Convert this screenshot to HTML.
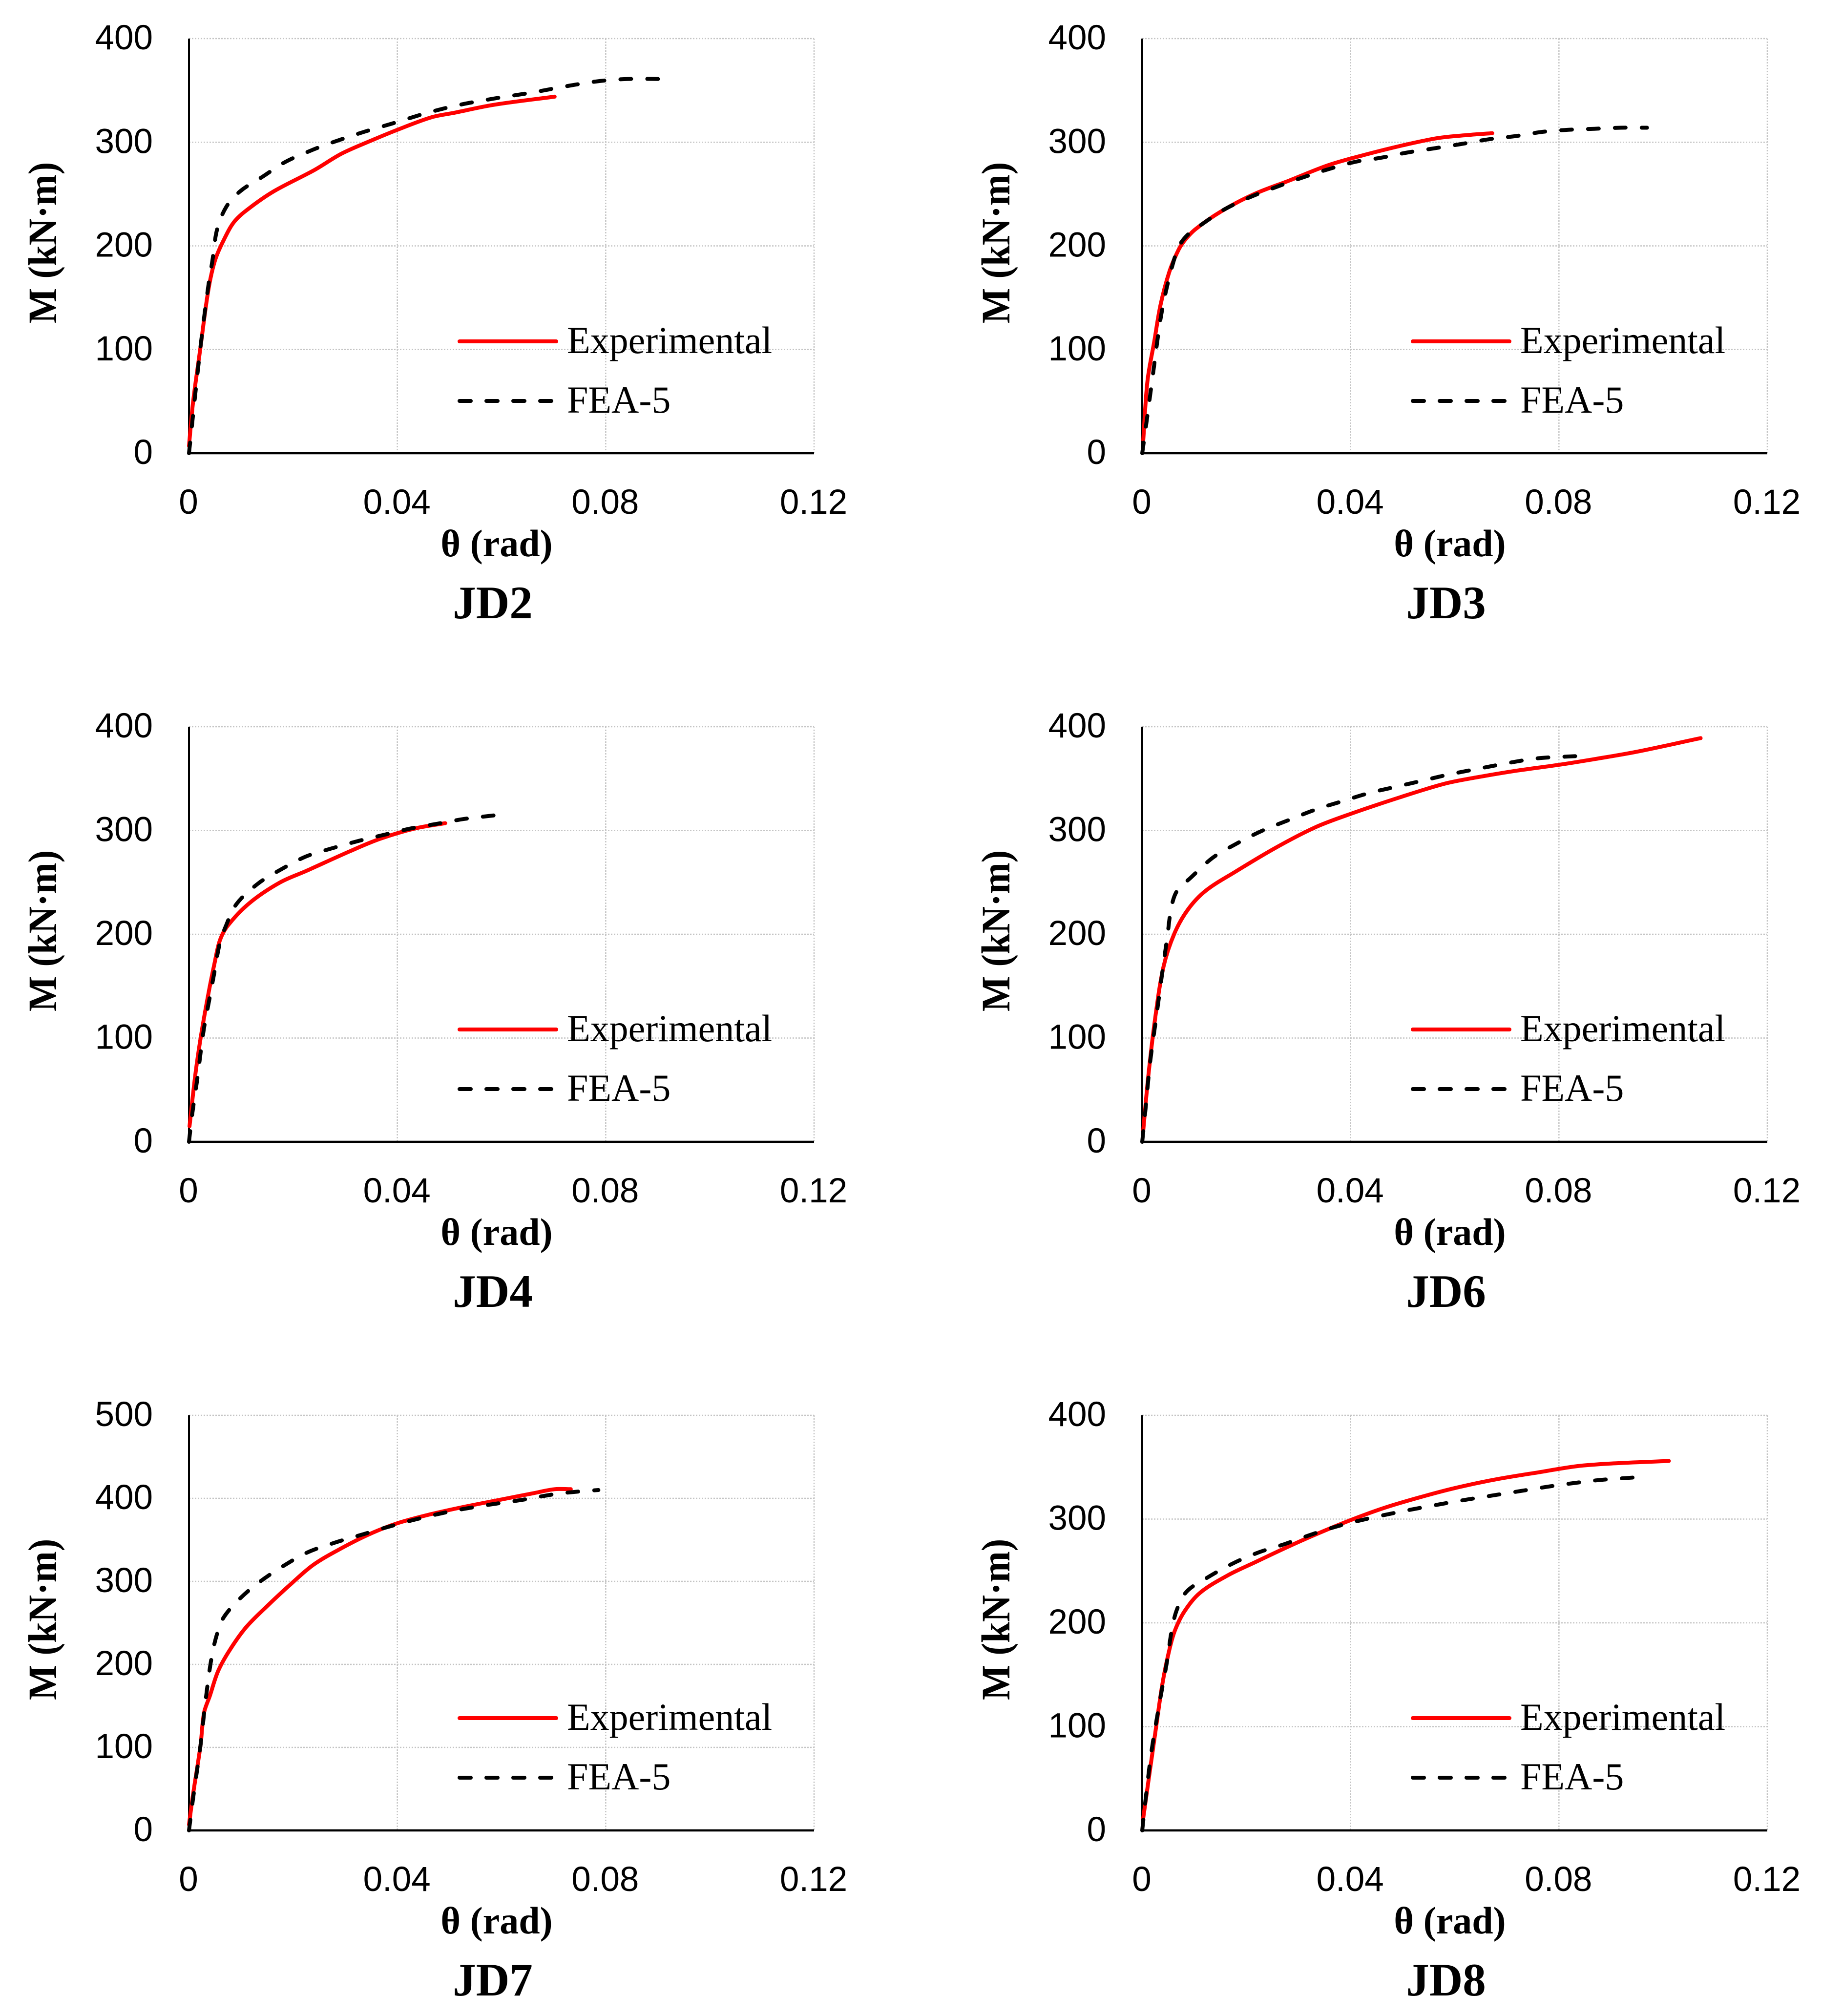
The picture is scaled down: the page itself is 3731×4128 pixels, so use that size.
<!DOCTYPE html>
<html lang="en">
<head>
<meta charset="utf-8">
<title>Moment-rotation curves JD2 to JD8</title>
<style>
html,body{margin:0;padding:0;background:#fff;width:3731px;height:4128px;overflow:hidden}
svg{display:block}
.tick{font-family:"Liberation Sans",sans-serif;font-size:71px;fill:#000}
.axis-title{font-family:"Liberation Serif",serif;font-weight:bold;fill:#000}
.panel-title{font-family:"Liberation Serif",serif;font-weight:bold;font-size:95px;fill:#000}
.legend-text{font-family:"Liberation Serif",serif;font-size:78px;fill:#000}
</style>
</head>
<body>
<svg id="figure" xmlns="http://www.w3.org/2000/svg" width="3731" height="4128" viewBox="0 0 3731 4128"></svg>
<script>
var xTicks = [0, 0.04, 0.08, 0.12];
var xTickLabels = ["0", "0.04", "0.08", "0.12"];
var yTicks400 = [0, 100, 200, 300, 400];
var yTickLabels400 = ["0", "100", "200", "300", "400"];
var yTicks500 = [0, 100, 200, 300, 400, 500];
var yTickLabels500 = ["0", "100", "200", "300", "400", "500"];
var seriesNames = ["Experimental", "FEA-5"];

var jd2ExpTheta = [0, 0.0008, 0.00215, 0.0037, 0.005, 0.0067, 0.0088, 0.012, 0.0164, 0.024, 0.0293, 0.0347, 0.04, 0.0465, 0.051, 0.0584, 0.0702];
var jd2ExpMoment = [7, 50, 100, 157, 186, 206, 224, 238, 253, 273, 289, 301, 312, 324, 328.5, 336, 344];
var jd2FeaTheta = [0, 0.00215, 0.0037, 0.0045, 0.0054, 0.0072, 0.0099, 0.0142, 0.0185, 0.0239, 0.0282, 0.0336, 0.039, 0.0455, 0.0519, 0.0584, 0.0659, 0.0724, 0.0788, 0.0842, 0.0907];
var jd2FeaMoment = [0, 100, 161, 186, 216, 238, 253, 267, 281, 293, 301, 310, 318, 328, 336, 342, 348, 354, 359, 361, 361];

var jd3ExpTheta = [0.0002, 0.001, 0.0023, 0.0035, 0.0052, 0.0069, 0.0081, 0.0102, 0.0152, 0.0215, 0.0282, 0.0358, 0.0425, 0.05, 0.0567, 0.0626, 0.0672];
var jd3ExpMoment = [12.7, 69.6, 107.5, 142.7, 175, 195.5, 205, 216, 233.4, 250, 263, 278, 287.6, 297, 304, 307, 308.7];
var jd3FeaTheta = [0, 0.0008, 0.0021, 0.0035, 0.0048, 0.0064, 0.0073, 0.009, 0.0115, 0.0157, 0.0207, 0.0253, 0.03, 0.0349, 0.0408, 0.0458, 0.0508, 0.0559, 0.0609, 0.0667, 0.0718, 0.0768, 0.0818, 0.0868, 0.0919, 0.0969];
var jd3FeaMoment = [0, 29, 77.7, 129, 161.7, 191.5, 202, 212, 221, 235, 247, 256, 264.6, 272.7, 281, 285, 290, 294, 298, 303, 306, 310, 312, 313, 314, 314];

var jd4ExpTheta = [0.0001, 0.0012, 0.0023, 0.0037, 0.0049, 0.0059, 0.0074, 0.0116, 0.0175, 0.0225, 0.0309, 0.0367, 0.0434, 0.0492];
var jd4ExpMoment = [15, 64, 102, 142, 172, 193.6, 208, 230, 250, 261, 280, 292, 302, 307];
var jd4FeaTheta = [0, 0.0006, 0.0016, 0.0028, 0.0039, 0.0049, 0.0059, 0.007, 0.0091, 0.0133, 0.0175, 0.0225, 0.0276, 0.0326, 0.0376, 0.0426, 0.0477, 0.0527, 0.0585];
var jd4FeaMoment = [0, 26, 61, 107, 137, 164, 191, 207, 229, 249, 262, 275, 283, 290, 296, 302, 306.5, 311, 314.5];

var jd6ExpTheta = [0.0002, 0.0011, 0.0024, 0.0041, 0.0062, 0.0088, 0.0122, 0.0178, 0.0255, 0.0332, 0.04, 0.0495, 0.058, 0.064, 0.0717, 0.0803, 0.0871, 0.0948, 0.1072];
var jd6ExpMoment = [11, 60, 116, 169, 201, 224, 242, 260, 283, 303, 316, 332, 345, 351, 357.5, 363.5, 369, 375.7, 389];
var jd6FeaTheta = [0, 0.0007, 0.0015, 0.0028, 0.0039, 0.0048, 0.0056, 0.0067, 0.0092, 0.0135, 0.0178, 0.0229, 0.0281, 0.0332, 0.0383, 0.0435, 0.0486, 0.0538, 0.0589, 0.064, 0.0709, 0.076, 0.0833];
var jd6FeaMoment = [0, 35, 76, 124, 165, 197, 226, 242, 254, 273.6, 286.5, 299.5, 310, 320, 328, 336, 342, 348, 354, 359, 365.6, 369.6, 371.6];

var jd7ExpTheta = [0, 0.00075, 0.0022, 0.0029, 0.004, 0.0056, 0.0078, 0.011, 0.0153, 0.0196, 0.0239, 0.0293, 0.0347, 0.04, 0.0465, 0.053, 0.0595, 0.066, 0.0702, 0.0733];
var jd7ExpMoment = [7, 42, 102, 142, 162, 192, 217, 245, 272, 297, 320, 340, 357, 370, 381, 390, 398, 406, 411, 411];
var jd7FeaTheta = [0, 0.00075, 0.0022, 0.0032, 0.0043, 0.0054, 0.0067, 0.0099, 0.0137, 0.0185, 0.0228, 0.0282, 0.0336, 0.039, 0.0444, 0.0508, 0.0573, 0.0638, 0.0702, 0.0745, 0.0786];
var jd7FeaMoment = [0, 37, 102, 157, 207, 237, 257, 280, 300, 320, 335, 347, 357, 367, 376, 385, 392, 398, 405, 408, 410];

var jd8ExpTheta = [0.0002, 0.0014, 0.0027, 0.0039, 0.0052, 0.0063, 0.0081, 0.0111, 0.0165, 0.0215, 0.0274, 0.0332, 0.04, 0.0466, 0.0533, 0.0601, 0.0676, 0.076, 0.0835, 0.0902, 0.1011];
var jd8ExpMoment = [12, 55, 101, 142, 174, 193, 211, 229, 246, 258, 272, 285, 299, 311, 321, 330, 338, 345, 351, 353.6, 356];
var jd8FeaTheta = [0, 0.0006, 0.0018, 0.0035, 0.0048, 0.0056, 0.0066, 0.0085, 0.0123, 0.0173, 0.0224, 0.0274, 0.0324, 0.0374, 0.0425, 0.0475, 0.0525, 0.0575, 0.0626, 0.0676, 0.0726, 0.0776, 0.0827, 0.0877, 0.0942];
var jd8FeaMoment = [0, 28, 77, 128, 164, 191, 212, 230, 243, 257, 268, 276, 285, 293, 299.5, 305, 310, 314.6, 319, 323, 327, 331, 334.6, 337.6, 340];

var svgNS = "http://www.w3.org/2000/svg";
var figure = document.getElementById("figure");

function make(parent, tag, attrs, text) {
  var el = document.createElementNS(svgNS, tag);
  for (var k in attrs) { el.setAttribute(k, attrs[k]); }
  if (text !== undefined) { el.textContent = text; }
  parent.appendChild(el);
  return el;
}

function unitDir(a, b) {
  var dx = b[0] - a[0], dy = b[1] - a[1];
  var n = Math.sqrt(dx * dx + dy * dy) || 1;
  return [dx / n, dy / n];
}

function smoothPath(pts) {
  var d = "M" + pts[0][0].toFixed(1) + " " + pts[0][1].toFixed(1);
  for (var i = 0; i < pts.length - 1; i++) {
    var p0 = pts[Math.max(i - 1, 0)], p1 = pts[i], p2 = pts[i + 1], p3 = pts[Math.min(i + 2, pts.length - 1)];
    var t1 = unitDir(p0, p2), t2 = unitDir(p1, p3);
    var dx = p2[0] - p1[0], dy = p2[1] - p1[1];
    var len = Math.sqrt(dx * dx + dy * dy) / 3;
    d += "C" + (p1[0] + t1[0] * len).toFixed(1) + " " + (p1[1] + t1[1] * len).toFixed(1) + " " +
         (p2[0] - t2[0] * len).toFixed(1) + " " + (p2[1] - t2[1] * len).toFixed(1) + " " +
         p2[0].toFixed(1) + " " + p2[1].toFixed(1);
  }
  return d;
}

function drawPanel(title, left, top, bottom, yMax, yTicks, yLabels, expT, expM, feaT, feaM) {
  var right = left + 1280;
  function xScale(v) { return left + (v / 0.12) * (right - left); }
  function yScale(v) { return bottom - (v / yMax) * (bottom - top); }
  function curve(ts, ms) {
    return smoothPath(ts.map(function (t, i) { return [xScale(t), yScale(ms[i])]; }));
  }

  var g = make(figure, "g", {});
  
  

  yTicks.forEach(function (v, i) {
    if (v > 0) {
      var h = make(g, "line", {x1: left, x2: right, y1: yScale(v), y2: yScale(v), stroke: "#c4c4c4", "stroke-width": 2.5, "stroke-dasharray": "3 3"});
      
      
    }
    var t = make(g, "text", {x: left - 74, y: yScale(v) + 22, "text-anchor": "end", "class": "tick"}, yLabels[i]);
    
    
  });

  xTicks.forEach(function (v, i) {
    if (v > 0) {
      var gl = make(g, "line", {x1: xScale(v), x2: xScale(v), y1: top, y2: bottom, stroke: "#c4c4c4", "stroke-width": 2.5, "stroke-dasharray": "3 3"});
      
      
    }
    var t = make(g, "text", {x: xScale(v) - 1, y: bottom + 124, "text-anchor": "middle", "class": "tick"}, xTickLabels[i]);
    
    
  });

  var yAxis = make(g, "line", {x1: left, x2: left, y1: top, y2: bottom + 3, stroke: "#000", "stroke-width": 4});
  
  
  var xAxis = make(g, "line", {x1: left - 2, x2: right, y1: bottom, y2: bottom, stroke: "#000", "stroke-width": 4.5});
  
  

  var exp = make(g, "path", {d: curve(expT, expM), fill: "none", stroke: "#ff0000", "stroke-width": 8, "stroke-linecap": "round", "stroke-linejoin": "round"});
  
  
  var fea = make(g, "path", {d: curve(feaT, feaM), fill: "none", stroke: "#000", "stroke-width": 8, "stroke-linecap": "round", "stroke-linejoin": "round", "stroke-dasharray": "22 33"});
  
  

  var l1 = make(g, "line", {x1: left + 554, x2: left + 752, y1: top + 620, y2: top + 620, stroke: "#ff0000", "stroke-width": 8, "stroke-linecap": "round"});
  
  
  var lt1 = make(g, "text", {x: left + 774, y: top + 644, "class": "legend-text"}, seriesNames[0]);
  
  
  var l2 = make(g, "line", {x1: left + 554, x2: left + 752, y1: top + 742, y2: top + 742, stroke: "#000", "stroke-width": 8, "stroke-linecap": "round", "stroke-dasharray": "23 32"});
  
  
  var lt2 = make(g, "text", {x: left + 774, y: top + 766, "class": "legend-text"}, seriesNames[1]);
  
  

  var xt = make(g, "text", {x: left + 630, y: bottom + 211, "text-anchor": "middle", "class": "axis-title", "font-size": 78}, "\u03B8 (rad)");
  
  
  var cy = top + 418;
  var yt = make(g, "text", {x: 0, y: 0, transform: "translate(" + (left - 272) + " " + cy + ") rotate(-90) scale(0.925 1)", "text-anchor": "middle", "class": "axis-title", "font-size": 83}, "M (kN\u00B7m)");
  
  
  var pt = make(g, "text", {x: left + 622, y: bottom + 338, "text-anchor": "middle", "class": "panel-title"}, title);
  
  
}

drawPanel("JD2", 387, 79, 928, 400, yTicks400, yTickLabels400, jd2ExpTheta, jd2ExpMoment, jd2FeaTheta, jd2FeaMoment);
drawPanel("JD3", 2339, 79, 928, 400, yTicks400, yTickLabels400, jd3ExpTheta, jd3ExpMoment, jd3FeaTheta, jd3FeaMoment);
drawPanel("JD4", 387, 1488, 2338, 400, yTicks400, yTickLabels400, jd4ExpTheta, jd4ExpMoment, jd4FeaTheta, jd4FeaMoment);
drawPanel("JD6", 2339, 1488, 2338, 400, yTicks400, yTickLabels400, jd6ExpTheta, jd6ExpMoment, jd6FeaTheta, jd6FeaMoment);
drawPanel("JD7", 387, 2898, 3748, 500, yTicks500, yTickLabels500, jd7ExpTheta, jd7ExpMoment, jd7FeaTheta, jd7FeaMoment);
drawPanel("JD8", 2339, 2898, 3748, 400, yTicks400, yTickLabels400, jd8ExpTheta, jd8ExpMoment, jd8FeaTheta, jd8FeaMoment);
</script>
</body>
</html>
